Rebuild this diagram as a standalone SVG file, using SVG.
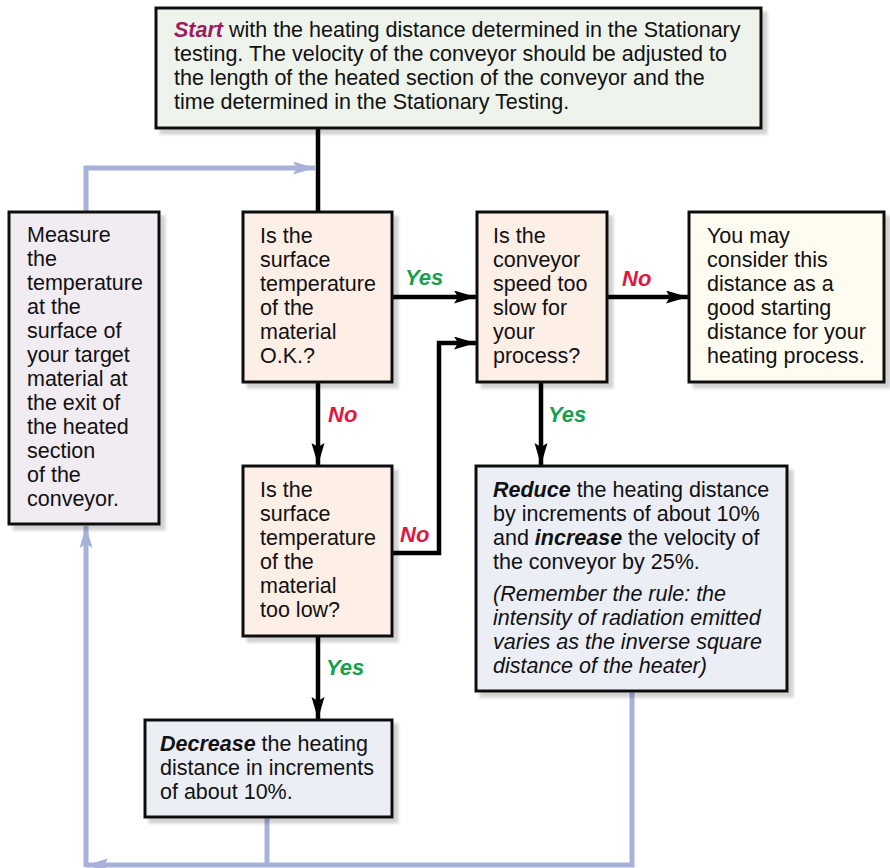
<svg xmlns="http://www.w3.org/2000/svg" width="890" height="868" viewBox="0 0 890 868">
<style>
  text { font-family: "Liberation Sans", Arial, Helvetica, sans-serif; font-size: 21.5px; fill: #111; }
  .box { stroke: #111; stroke-width: 3; filter: url(#sh); }
  .bi { font-weight: bold; font-style: italic; }
  .it { font-style: italic; }
  .yes { font-weight: bold; font-style: italic; fill: #15a04b; font-size: 22px; }
  .no { font-weight: bold; font-style: italic; fill: #e2173e; font-size: 22px; }
  .blk { fill: none; stroke: #000; stroke-width: 4.5; }
  .blu { fill: none; stroke: #a7b1da; stroke-width: 5; }
</style>
<defs>
  <filter id="sh" x="-10%" y="-10%" width="130%" height="130%">
    <feGaussianBlur in="SourceAlpha" stdDeviation="1.8"/>
    <feOffset dx="5" dy="5" result="b"/>
    <feComponentTransfer><feFuncA type="linear" slope="0.18"/></feComponentTransfer>
    <feMerge><feMergeNode/><feMergeNode in="SourceGraphic"/></feMerge>
  </filter>
  <marker id="ab" markerUnits="userSpaceOnUse" markerWidth="24" markerHeight="14" refX="22" refY="6.5" orient="auto">
    <path d="M0,0 L22,6.5 L0,13 L4,6.5 Z" fill="#000"/>
  </marker>
  <marker id="al" markerUnits="userSpaceOnUse" markerWidth="24" markerHeight="14" refX="22" refY="6.5" orient="auto">
    <path d="M0,0 L22,6.5 L0,13 L4,6.5 Z" fill="#a7b1da"/>
  </marker>
</defs>

<g id="connectors">
  <path class="blk" d="M318,129 V212"/>
  <path class="blk" d="M392,297 H476" marker-end="url(#ab)"/>
  <path class="blk" d="M318,382 V465" marker-end="url(#ab)"/>
  <path class="blk" d="M392,553 H439 V343 H476" marker-end="url(#ab)"/>
  <path class="blk" d="M606,297 H688" marker-end="url(#ab)"/>
  <path class="blk" d="M541,382 V465" marker-end="url(#ab)"/>
  <path class="blk" d="M318,636 V719" marker-end="url(#ab)"/>
  <path class="blu" d="M86,212 V168 H315" marker-end="url(#al)"/>
  <path class="blu" d="M632,691 V865 H86" marker-end="url(#al)"/>
  <path class="blu" d="M267,818 V865"/>
  <path class="blu" d="M86,867 V526" marker-end="url(#al)"/>
  <text class="yes" x="405" y="285">Yes</text>
  <text class="no" x="328" y="422">No</text>
  <text class="yes" x="548" y="422">Yes</text>
  <text class="no" x="622" y="286">No</text>
  <text class="no" x="400" y="542">No</text>
  <text class="yes" x="326" y="675">Yes</text>
</g>

<g id="start">
  <rect class="box" x="156" y="8" width="605" height="120" fill="#eef3ec"/>
  <text x="174" y="37"><tspan class="bi" fill="#a0185e">Start</tspan> with the heating distance determined in the Stationary</text>
  <text x="174" y="61">testing. The velocity of the conveyor should be adjusted to</text>
  <text x="174" y="85">the length of the heated section of the conveyor and the</text>
  <text x="174" y="109">time determined in the Stationary Testing.</text>
</g>

<g id="measure">
  <rect class="box" x="9" y="212" width="150" height="312" fill="#f1ebf2"/>
  <text x="27" y="242">Measure</text>
  <text x="27" y="266">the</text>
  <text x="27" y="290">temperature</text>
  <text x="27" y="314">at the</text>
  <text x="27" y="338">surface of</text>
  <text x="27" y="362">your target</text>
  <text x="27" y="386">material at</text>
  <text x="27" y="410">the exit of</text>
  <text x="27" y="434">the heated</text>
  <text x="27" y="458">section</text>
  <text x="27" y="482">of the</text>
  <text x="27" y="506">conveyor.</text>
</g>

<g id="q-ok">
  <rect class="box" x="243" y="212" width="149" height="170" fill="#fdeee6"/>
  <text x="260" y="243">Is the</text>
  <text x="260" y="267">surface</text>
  <text x="260" y="291">temperature</text>
  <text x="260" y="315">of the</text>
  <text x="260" y="339">material</text>
  <text x="260" y="363">O.K.?</text>
</g>

<g id="q-speed">
  <rect class="box" x="477" y="212" width="130" height="170" fill="#fdeee6"/>
  <text x="493" y="243">Is the</text>
  <text x="493" y="267">conveyor</text>
  <text x="493" y="291">speed too</text>
  <text x="493" y="315">slow for</text>
  <text x="493" y="339">your</text>
  <text x="493" y="363">process?</text>
</g>

<g id="good">
  <rect class="box" x="689" y="212" width="195" height="170" fill="#fefcf0"/>
  <text x="707" y="243">You may</text>
  <text x="707" y="267">consider this</text>
  <text x="707" y="291">distance as a</text>
  <text x="707" y="315">good starting</text>
  <text x="707" y="339">distance for your</text>
  <text x="707" y="363">heating process.</text>
</g>

<g id="q-low">
  <rect class="box" x="243" y="466" width="149" height="170" fill="#fdeee6"/>
  <text x="260" y="497">Is the</text>
  <text x="260" y="521">surface</text>
  <text x="260" y="545">temperature</text>
  <text x="260" y="569">of the</text>
  <text x="260" y="593">material</text>
  <text x="260" y="617">too low?</text>
</g>

<g id="reduce">
  <rect class="box" x="476" y="466" width="311" height="225" fill="#eceef6"/>
  <text x="493" y="497"><tspan class="bi">Reduce</tspan> the heating distance</text>
  <text x="493" y="521">by increments of about 10%</text>
  <text x="493" y="545">and <tspan class="bi">increase</tspan> the velocity of</text>
  <text x="493" y="569">the conveyor by 25%.</text>
  <text class="it" x="493" y="601">(Remember the rule: the</text>
  <text class="it" x="493" y="625">intensity of radiation emitted</text>
  <text class="it" x="493" y="649">varies as the inverse square</text>
  <text class="it" x="493" y="673">distance of the heater)</text>
</g>

<g id="decrease">
  <rect class="box" x="145" y="720" width="247" height="97" fill="#eceef6"/>
  <text x="160" y="751"><tspan class="bi">Decrease</tspan> the heating</text>
  <text x="160" y="775">distance in increments</text>
  <text x="160" y="799">of about 10%.</text>
</g>
</svg>
